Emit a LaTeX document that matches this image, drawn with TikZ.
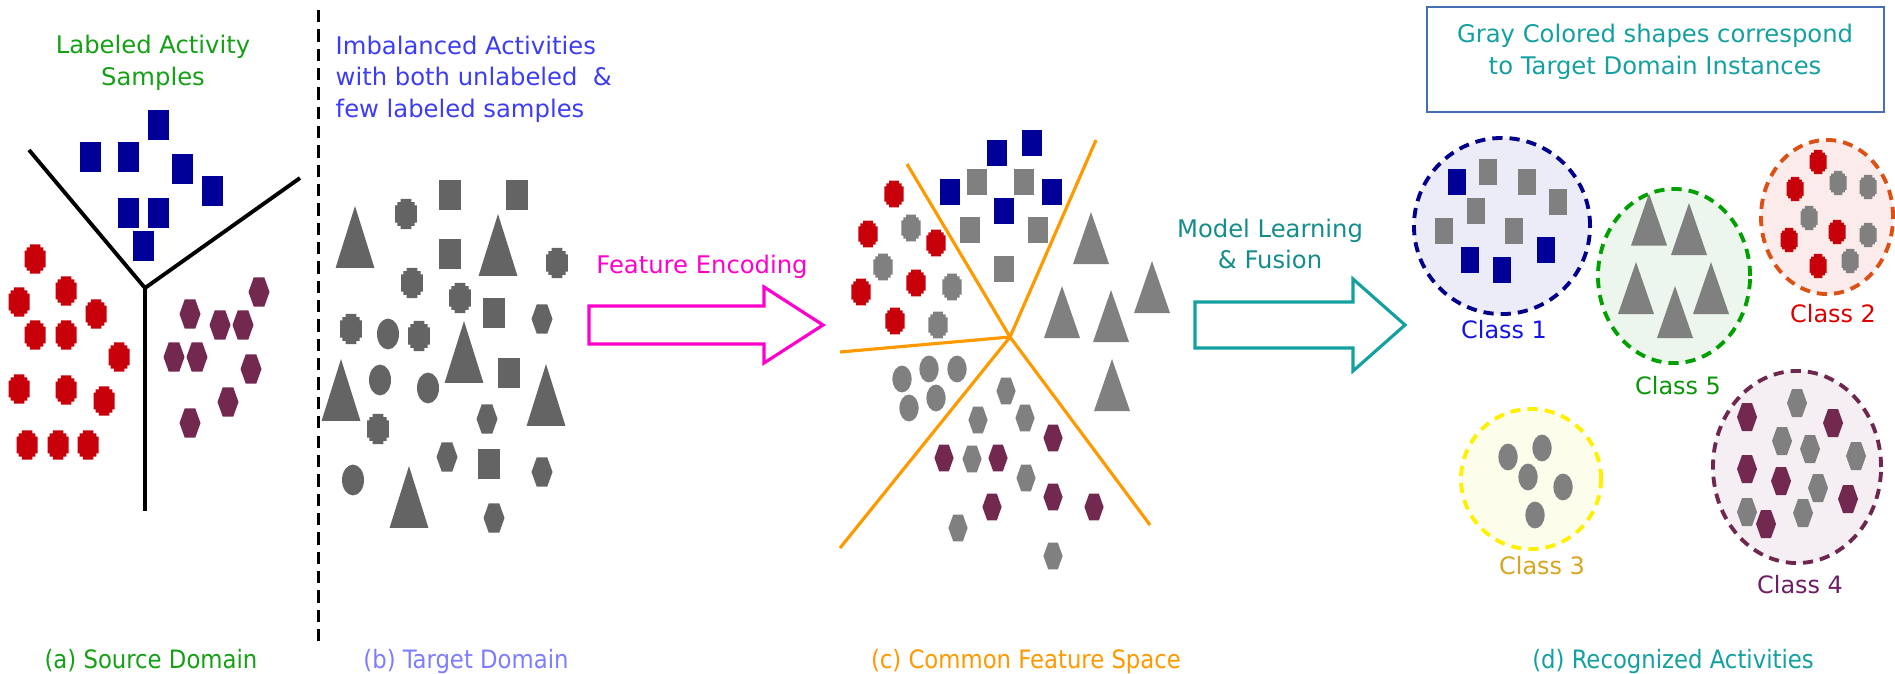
\documentclass[tikz,border=0pt]{standalone}
\usepackage{fontspec}
\setmainfont{DejaVu Sans}
\newfontfamily\condfont{DejaVu Sans Condensed}
\usetikzlibrary{positioning}
\usetikzlibrary{shapes.geometric}

\definecolor{srcblue}{RGB}{0,0,153}
\definecolor{srcred}{RGB}{200,0,10}
\definecolor{srcpurple}{RGB}{115,40,80}
\definecolor{tgtgray}{RGB}{100,100,100}
\definecolor{midgray}{RGB}{128,128,128}
\definecolor{labgreen}{RGB}{20,160,20}
\definecolor{imbblue}{RGB}{60,60,245}
\definecolor{tgtviolet}{RGB}{125,125,255}
\definecolor{encpink}{RGB}{255,0,204}
\definecolor{sepor}{RGB}{255,153,0}
\definecolor{fuseteal}{RGB}{20,140,140}
\definecolor{noteteal}{RGB}{20,160,160}
\definecolor{noteblue}{RGB}{70,110,180}
\definecolor{ringone}{RGB}{0,0,140}
\definecolor{fillone}{RGB}{236,236,248}
\definecolor{ringfive}{RGB}{0,160,0}
\definecolor{fillfive}{RGB}{236,246,236}
\definecolor{ringtwo}{RGB}{220,80,20}
\definecolor{filltwo}{RGB}{251,236,235}
\definecolor{ringthree}{RGB}{255,240,0}
\definecolor{fillthree}{RGB}{253,253,236}
\definecolor{ringfour}{RGB}{110,40,80}
\definecolor{fillfour}{RGB}{245,239,243}
\definecolor{txtone}{RGB}{20,20,230}
\definecolor{txtfive}{RGB}{10,150,10}
\definecolor{txttwo}{RGB}{220,0,0}
\definecolor{txtthree}{RGB}{215,165,30}
\definecolor{txtfour}{RGB}{110,30,100}

\begin{document}
\begin{tikzpicture}[x=0.01cm, y=-0.01cm,
		% text styles
		headtxt/.style={font=\fontsize{6.9pt}{9pt}\selectfont, align=center, inner sep=0pt},
		caption/.style={font=\condfont\fontsize{7.2pt}{9pt}\selectfont, inner sep=0pt, anchor=base},
		clslabel/.style={font=\fontsize{6.8pt}{9pt}\selectfont, inner sep=0pt},
		% lines, arrows and cluster rings
		boundary/.style={line width=1.1pt},
		cut/.style={line width=0.9pt, draw=sepor},
		sepline/.style={line width=0.85pt, dash pattern=on 3.5pt off 2pt},
		bigarrow/.style={line width=0.9pt, line join=miter},
		ring/.style={ellipse, line width=1.1pt, dash pattern=on 2.9pt off 2pt, inner sep=0pt},
		% sample shapes (20 x 28 px)
		sqr/.pic={\fill (-10,-14) rectangle (10,14);},
		crs/.pic={\fill (-5,-14) -- (5,-14) -- (5,-11) -- (8,-11) -- (8,-8) -- (10,-8) -- (10,8) -- (8,8) -- (8,11) -- (5,11) -- (5,14) -- (-5,14) -- (-5,11) -- (-8,11) -- (-8,8) -- (-10,8) -- (-10,-8) -- (-8,-8) -- (-8,-11) -- (-5,-11) -- cycle;},
		hex/.pic={\fill (-10,0) -- (-5,-14) -- (5,-14) -- (10,0) -- (5,14) -- (-5,14) -- cycle;},
		ell/.pic={\fill (0,0) ellipse [x radius=10, y radius=14];},
		tri/.pic={\fill (0,-26) -- (18,26) -- (-18,26) -- cycle;},
		]
		\useasboundingbox (0,0) rectangle (1895,673);

		% (a) Source domain
		\node[headtxt, labgreen] (srctitle) at (153,62.5) {Labeled Activity\\Samples};
		\coordinate (srcJ) at (145,288);
		\coordinate (srcL) at (29,150);
		\coordinate (srcR) at (300,178);
		\coordinate (srcB) at (145,511);
		\draw[boundary] (srcL) -- (srcJ) -- (srcR);
		\draw[boundary] (srcJ) -- (srcB);
		\foreach \x/\y in {158/125, 90/157, 128/157, 182/169, 212/191, 128/213, 158/213, 143/246}
			\pic[srcblue, scale=1.05] at (\x,\y) {sqr};
		\foreach \x/\y in {35/259, 66/291, 19/302, 96/314, 35/335, 66/335, 119/357, 19/389, 66/390, 104/401, 27/445, 58/445, 88/445}
			\pic[srcred, scale=1.05] at (\x,\y) {crs};
		\foreach \x/\y in {259/292, 190/314, 220/325, 243/325, 174/357, 197/357, 251/369, 228/402, 190/423}
			\pic[srcpurple, scale=1.05] at (\x,\y) {hex};

		% separator
		\coordinate (sepTop) at (318,10);
		\coordinate (sepBot) at (318,648);
		\draw[sepline] (sepTop) -- (sepBot);

		% (b) Target domain
		\node[headtxt, imbblue, align=left, anchor=west] (tgttitle) at (335,79) {Imbalanced Activities\\with both unlabeled\ \ \&\\few labeled samples};
		\foreach \x/\y in {355/237, 498/245, 464/352, 341/390, 546/395, 409/497}
			\pic[tgtgray, xscale=1.08, yscale=1.19] at (\x,\y) {tri};
		\foreach \x/\y in {450/195, 517/195, 450/254, 494/313, 509/373, 489/464}
			\pic[tgtgray, scale=1.08] at (\x,\y) {sqr};
		\foreach \x/\y in {406/214, 412/283, 460/298, 557/263, 351/329, 419/336, 378/429}
			\pic[tgtgray, scale=1.08] at (\x,\y) {crs};
		\foreach \x/\y in {388/334, 380/380, 428/388, 353/480}
			\pic[tgtgray, scale=1.1] at (\x,\y) {ell};
		\foreach \x/\y in {542/319, 487/419, 447/457, 542/472, 494/518}
			\pic[tgtgray, scale=1.05] at (\x,\y) {hex};

		% Feature encoding arrow
		\node[headtxt, encpink, anchor=base] (enctxt) at (702,273) {Feature Encoding};
		\draw[bigarrow, encpink] (589,306) -- (764,306) -- (764,287) -- (823,325) -- (764,363) -- (764,344) -- (589,344) -- cycle;

		% (c) Common feature space
		\coordinate (cutJ) at (1010,337);
		\coordinate (cutA) at (907,164);
		\coordinate (cutB) at (1150,525);
		\coordinate (cutC) at (1096,140);
		\coordinate (cutD) at (840,352);
		\coordinate (cutE) at (840,548);
		\foreach \e in {cutA, cutB, cutC, cutD, cutE}
			\draw[cut] (cutJ) -- (\e);
		\foreach \x/\y in {997/153, 1032/143, 950/192, 1052/192, 1004/211}
			\pic[srcblue, scale=0.96] at (\x,\y) {sqr};
		\foreach \x/\y in {977/182, 1024/182, 970/230, 1038/230, 1004/269}
			\pic[midgray, scale=0.96] at (\x,\y) {sqr};
		\foreach \x/\y in {894/194, 868/234, 936/243, 916/283, 861/292, 895/321}
			\pic[srcred, scale=0.96] at (\x,\y) {crs};
		\foreach \x/\y in {911/228, 883/267, 952/287, 938/325}
			\pic[midgray, scale=0.96] at (\x,\y) {crs};
		\foreach \x/\y in {1091/238, 1152/287, 1062/312, 1111/316, 1112/385}
			\pic[midgray] at (\x,\y) {tri};
		\foreach \x/\y in {902/379, 929/369, 957/369, 909/408, 936/398}
			\pic[midgray, scale=0.96] at (\x,\y) {ell};
		\foreach \x/\y in {1006/391, 978/420, 1025/418, 972/459, 1026/478, 958/528, 1053/556}
			\pic[midgray, scale=0.96] at (\x,\y) {hex};
		\foreach \x/\y in {1053/438, 944/458, 998/458, 992/507, 1053/497, 1094/507}
			\pic[srcpurple, scale=0.96] at (\x,\y) {hex};

		% Model learning arrow
		\node[headtxt, fuseteal] (fusetxt) at (1270,244) {Model Learning\\\& Fusion};
		\draw[bigarrow, noteteal] (1195,302) -- (1353,302) -- (1353,279) -- (1405,325) -- (1353,371) -- (1353,348) -- (1195,348) -- cycle;

		% note box
		\node[draw=noteblue, line width=0.6pt, minimum width=4.57cm, minimum height=1.05cm, inner sep=0pt] (notebox) at (1655.5,59.5) {};
		\node[headtxt, noteteal] (notetxt) at (1655,51.5) {Gray Colored shapes correspond\\to Target Domain Instances};

		% (d) Recognized activities: cluster rings
		\node[ring, draw=ringone, fill=fillone, minimum width=1.76cm, minimum height=1.76cm] (cls1) at (1502,226) {};
		\node[ring, draw=ringfive, fill=fillfive, minimum width=1.52cm, minimum height=1.74cm] (cls5) at (1674,276) {};
		\node[ring, draw=ringtwo, fill=filltwo, minimum width=1.32cm, minimum height=1.54cm] (cls2) at (1827,217) {};
		\node[ring, draw=ringthree, fill=fillthree, minimum width=1.40cm, minimum height=1.40cm] (cls3) at (1531,479) {};
		\node[ring, draw=ringfour, fill=fillfour, minimum width=1.68cm, minimum height=1.92cm] (cls4) at (1797,467) {};

		\node[clslabel, txtone, below=1.1pt of cls1, xshift=0.02cm] (lab1) {Class 1};
		\node[clslabel, txtfive, below=3.1pt of cls5, xshift=0.04cm] (lab5) {Class 5};
		\node[clslabel, txttwo, below=2.3pt of cls2, xshift=0.06cm] (lab2) {Class 2};
		\node[clslabel, txtthree, below=1.4pt of cls3, xshift=0.11cm] (lab3) {Class 3};
		\node[clslabel, txtfour, below=2.8pt of cls4, xshift=0.03cm] (lab4) {Class 4};

		% members of each class
		\foreach \x/\y in {1457/182, 1470/260, 1502/270, 1546/250}
			\pic[srcblue, xscale=0.87, yscale=0.93] at (\x,\y) {sqr};
		\foreach \x/\y in {1488/172, 1527/182, 1558/202, 1476/211, 1444/231, 1514/231}
			\pic[midgray, xscale=0.87, yscale=0.93] at (\x,\y) {sqr};
		\foreach \x/\y in {1649/219.5, 1689/229, 1636/288, 1711/288, 1675/312}
			\pic[midgray] at (\x,\y) {tri};
		\foreach \x/\y in {1818/162, 1795/189, 1789/240, 1837/232, 1818/266}
			\pic[srcred, xscale=0.85, yscale=0.86] at (\x,\y) {crs};
		\foreach \x/\y in {1838/183, 1868/187, 1809/218, 1868/235, 1850/261}
			\pic[midgray, xscale=0.85, yscale=0.86] at (\x,\y) {crs};
		\foreach \x/\y in {1508/457, 1542/448, 1528/477, 1563/487, 1535/515}
			\pic[midgray, scale=0.96] at (\x,\y) {ell};
		\foreach \x/\y in {1747/417, 1833/423, 1747/469, 1781/481, 1848/499, 1766/524}
			\pic[srcpurple] at (\x,\y) {hex};
		\foreach \x/\y in {1797/403, 1782/441, 1810/449, 1856/456, 1818/488, 1747/512, 1803/513}
			\pic[midgray] at (\x,\y) {hex};

		% captions
		\node[caption, labgreen] (capa) at (151,668) {(a) Source Domain};
		\node[caption, tgtviolet] (capb) at (466,668) {(b) Target Domain};
		\node[caption, sepor] (capc) at (1026,668) {(c) Common Feature Space};
		\node[caption, noteteal] (capd) at (1673,668) {(d) Recognized Activities};

	\end{tikzpicture}
\end{document}
